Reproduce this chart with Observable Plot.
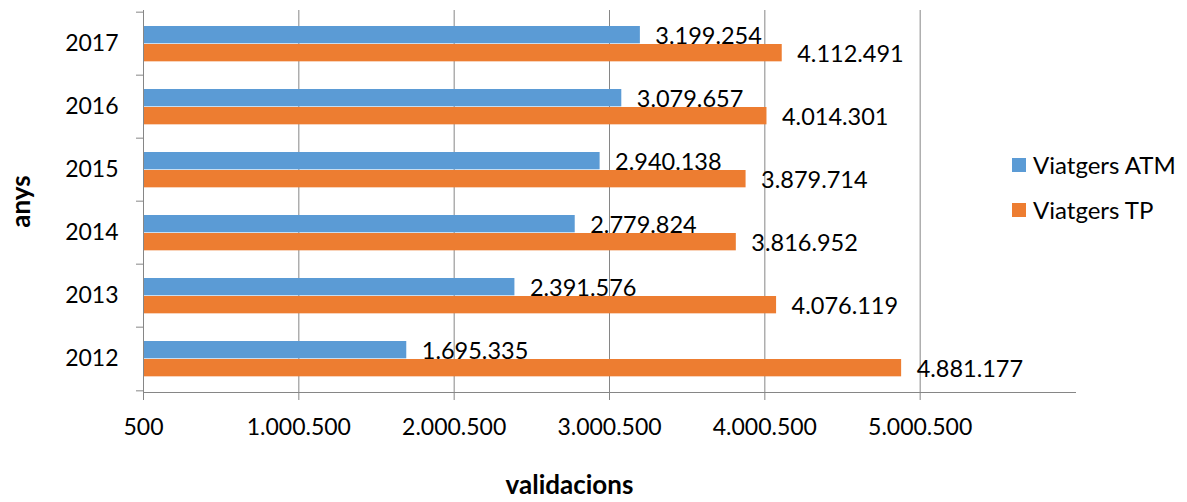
<!DOCTYPE html>
<html><head><meta charset="utf-8">
<script src="https://cdn.jsdelivr.net/npm/d3@7"></script>
<script src="https://cdn.jsdelivr.net/npm/@observablehq/plot@0.6"></script>
<style>
body{margin:0;background:#fff;font-family:Lato,sans-serif;}
#wrap{position:relative;width:1187px;height:502px;}
.legend{position:absolute;left:1012px;top:142px;font:24px Lato,sans-serif;color:#000;}
.item{display:flex;align-items:center;height:45px;}
.sw{width:14px;height:14px;margin-right:7px;}
</style></head><body><div id="wrap"></div>
<script>
const years = ["2012","2013","2014","2015","2016","2017"];
const seriesNames = ["Viatgers ATM","Viatgers TP"];
const atm = [1695335,2391576,2779824,2940138,3079657,3199254];
const tp  = [4881177,4076119,3816952,3879714,4014301,4112491];
const xTicks = [500,1000500,2000500,3000500,4000500,5000500];
const xMax = 6000500;
const colors = ["#5B9BD5","#ED7D31"];
const xTitle = "validacions";
const yTitle = "anys";

const dataATM = years.map((y,i)=>({year:y, series:seriesNames[0], value:atm[i]}));
const dataTP  = years.map((y,i)=>({year:y, series:seriesNames[1], value:tp[i]}));
const fmt = v => d3.format(",")(v).replace(/,/g,".");

const W = 1187, H = 502, mT = 10, mB = 110, mL = 143, mR = 112;
const step = (H - mT - mB) / years.length;
const barH = 18, pad = 14;
const grid = "#868686";

const chart = Plot.plot({
  width: W, height: H,
  marginTop: mT, marginBottom: mB, marginLeft: mL, marginRight: mR,
  style: {fontFamily: "Lato, sans-serif", fontSize: "23px", color: "#000", background: "#fff"},
  x: {domain: [xTicks[0], xMax], label: null},
  y: {domain: years.slice().reverse(), padding: 0, label: null},
  marks: [
    Plot.ruleX(xTicks, {stroke: grid, strokeWidth: 1}),
    Plot.barX(dataATM, {y: "year", x1: xTicks[0], x2: "value", fill: colors[0],
      insetTop: pad, insetBottom: step - pad - barH}),
    Plot.barX(dataTP, {y: "year", x1: xTicks[0], x2: "value", fill: colors[1],
      insetTop: pad + barH, insetBottom: step - pad - 2*barH}),
    Plot.text(dataATM, {y: "year", x: "value", text: d => fmt(d.value), textAnchor: "start",
      dx: 15, dy: -barH/2 + 1.5, fontSize: 23.5, fill: "#000"}),
    Plot.text(dataTP, {y: "year", x: "value", text: d => fmt(d.value), textAnchor: "start",
      dx: 15, dy: barH/2 + 1.5, fontSize: 23.5, fill: "#000"}),
    Plot.frame({anchor: "bottom", stroke: grid}),
    Plot.frame({anchor: "left", stroke: grid}),
    Plot.axisX(xTicks, {tickSize: 8, tickFormat: () => "", stroke: grid, label: null}),
    Plot.axisX(xTicks, {tickSize: 0, tickPadding: 26, tickFormat: fmt, fontSize: 23, fill: "#000", label: null}),
    Plot.axisY({tickSize: 0, tickPadding: 25, fontSize: 23, fill: "#000", label: null}),
    Plot.axisY({tickSize: 7, tickFormat: () => "", dy: -step/2, stroke: grid, label: null}),
    Plot.axisY([years[0]], {tickSize: 7, tickFormat: () => "", dy: step/2, stroke: grid, label: null}),
    Plot.text([yTitle], {text: d => d, frameAnchor: "left", textAnchor: "middle", lineAnchor: "middle",
      rotate: -90, dx: -122, fontWeight: "bold", fontSize: 26, fill: "#000"}),
    Plot.text([xTitle], {text: d => d, frameAnchor: "bottom", textAnchor: "middle", lineAnchor: "middle",
      dx: -40, dy: 93, fontWeight: "bold", fontSize: 26, fill: "#000"})
  ]
});

const wrap = document.getElementById("wrap");
wrap.appendChild(chart);
const legend = document.createElement("div");
legend.className = "legend";
seriesNames.forEach((name, i) => {
  const item = document.createElement("div");
  item.className = "item";
  const sw = document.createElement("span");
  sw.className = "sw";
  sw.style.background = colors[i];
  const t = document.createElement("span");
  t.textContent = name;
  item.appendChild(sw); item.appendChild(t);
  legend.appendChild(item);
});
wrap.appendChild(legend);
</script></body></html>
